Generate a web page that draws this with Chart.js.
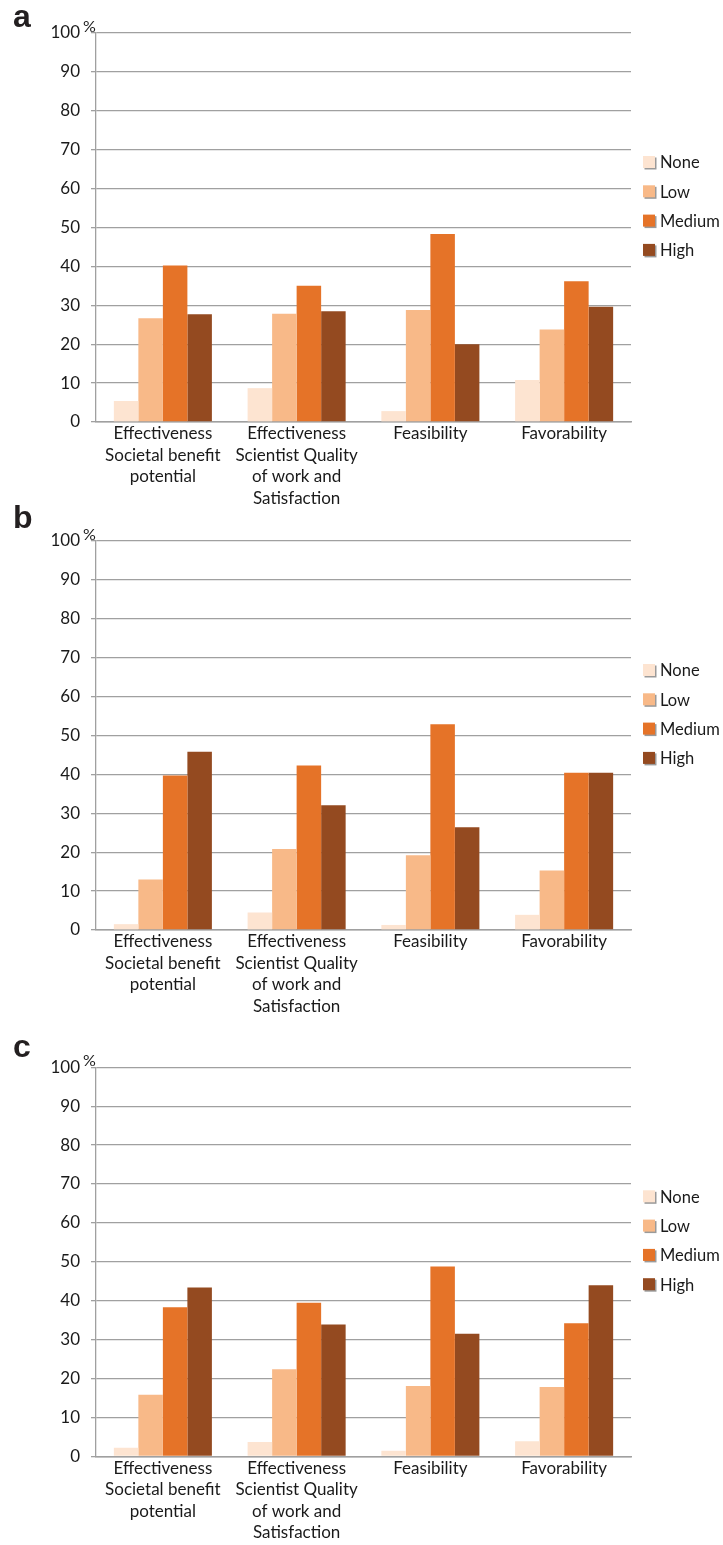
<!DOCTYPE html>
<html>
<head>
<meta charset="utf-8">
<script src="https://cdn.jsdelivr.net/npm/chart.js@4.4.1/dist/chart.umd.min.js"></script>
<style>
  body { margin: 0; background: #fff; }
  .panel { position: absolute; left: 0; width: 723px; }
</style>
</head>
<body>
<div class="panel" style="top:0px;height:515px"><canvas id="chartA" width="723" height="515"></canvas></div>
<div class="panel" style="top:495px;height:535px"><canvas id="chartB" width="723" height="535"></canvas></div>
<div class="panel" style="top:1030px;height:515px"><canvas id="chartC" width="723" height="515"></canvas></div>
<script>
// 데이터
var categories = [
  ['Effectiveness', 'Societal benefit', 'potential'],
  ['Effectiveness', 'Scientist Quality', 'of work and', 'Satisfaction'],
  'Feasibility',
  'Favorability'
];
var seriesNames = ['None', 'Low', 'Medium', 'High'];
var yTicks = [0, 10, 20, 30, 40, 50, 60, 70, 80, 90, 100];

// 패널 a
var aNone = [5.4, 8.7, 2.8, 10.8];
var aLow = [26.7, 27.8, 28.8, 23.8];
var aMedium = [40.2, 35.0, 48.3, 36.2];
var aHigh = [27.7, 28.5, 20.0, 29.6];

// 패널 b
var bNone = [1.5, 4.5, 1.3, 3.9];
var bLow = [13.0, 20.8, 19.2, 15.3];
var bMedium = [39.7, 42.3, 52.9, 40.4];
var bHigh = [45.8, 32.1, 26.4, 40.4];

// 패널 c
var cNone = [2.2, 3.7, 1.4, 3.9];
var cLow = [15.8, 22.4, 18.1, 17.8];
var cMedium = [38.3, 39.5, 48.8, 34.2];
var cHigh = [43.4, 33.9, 31.5, 44.0];

var colors = ['#FDE4D1', '#F8B988', '#E57328', '#944A20'];
var gridColor = '#a0a0a0';
var textColor = '#1a1a1a';
var fontFamily = 'Lato, "Open Sans", sans-serif';

// 패널 글자, % 표시, 범례 그리기
var decorPlugin = {
  id: 'decor',
  afterDraw: function(chart, args, opts) {
    var ctx = chart.ctx;
    var area = chart.chartArea;
    ctx.save();
    // 패널 글자
    ctx.fillStyle = '#231f20';
    ctx.font = 'bold 32px "Liberation Sans", Arial, sans-serif';
    ctx.textBaseline = 'alphabetic';
    ctx.textAlign = 'left';
    ctx.fillText(opts.letter, 13, opts.letterY);
    // %
    ctx.font = '16px ' + fontFamily;
    ctx.fillStyle = textColor;
    ctx.fillText('%', area.left - 13, area.top - 1);
    // 범례
    ctx.font = '16.5px ' + fontFamily;
    ctx.textBaseline = 'middle';
    for (var i = 0; i < seriesNames.length; i++) {
      var cy = area.top + 129 + i * 29.3;
      var x = area.right + 12;
      ctx.fillStyle = '#9a9a9a';
      ctx.fillRect(x + 1.5, cy - 4.5, 12, 12);
      ctx.fillStyle = colors[i];
      ctx.fillRect(x, cy - 6, 12, 12);
      ctx.fillStyle = textColor;
      ctx.fillText(seriesNames[i], x + 17, cy + 1);
    }
    ctx.restore();
  }
};

function drawPanel(canvasId, letter, letterY, top, none, low, medium, high) {
  var canvas = document.getElementById(canvasId);
  var ctx = canvas.getContext('2d');
  var plotHeight = 389;
  var values = [none, low, medium, high];
  var datasets = seriesNames.map(function(name, i) {
    return {
      label: name,
      data: values[i],
      backgroundColor: colors[i],
      borderWidth: 0,
      barPercentage: 1.0,
      categoryPercentage: 0.733
    };
  });
  new Chart(ctx, {
    type: 'bar',
    data: { labels: categories, datasets: datasets },
    plugins: [decorPlugin],
    options: {
      responsive: false,
      animation: false,
      layout: { padding: { top: top, left: 0, right: 92, bottom: 0 } },
      plugins: {
        legend: { display: false },
        tooltip: { enabled: false },
        decor: { letter: letter, letterY: letterY }
      },
      scales: {
        x: {
          grid: { display: false, drawTicks: false },
          border: { color: gridColor, width: 1.5 },
          ticks: {
            color: textColor,
            font: { family: fontFamily, size: 17, lineHeight: 1.27 },
            padding: 1,
            maxRotation: 0,
            autoSkip: false
          },
          afterFit: function(scale) {
            scale.height = canvas.height - top - plotHeight;
          }
        },
        y: {
          min: yTicks[0],
          max: yTicks[yTicks.length - 1],
          afterBuildTicks: function(scale) {
            scale.ticks = yTicks.map(function(v) { return { value: v }; });
          },
          grid: { color: gridColor, lineWidth: 1.3, tickLength: 5 },
          border: { color: gridColor, width: 1.3 },
          ticks: {
            color: textColor,
            font: { family: fontFamily, size: 17 },
            padding: 11
          },
          afterFit: function(scale) {
            scale.width = 96;
          }
        }
      }
    }
  });
}

drawPanel('chartA', 'a', 27, 33, aNone, aLow, aMedium, aHigh);
drawPanel('chartB', 'b', 33, 46, bNone, bLow, bMedium, bHigh);
drawPanel('chartC', 'c', 27, 37.3, cNone, cLow, cMedium, cHigh);
</script>
</body>
</html>
